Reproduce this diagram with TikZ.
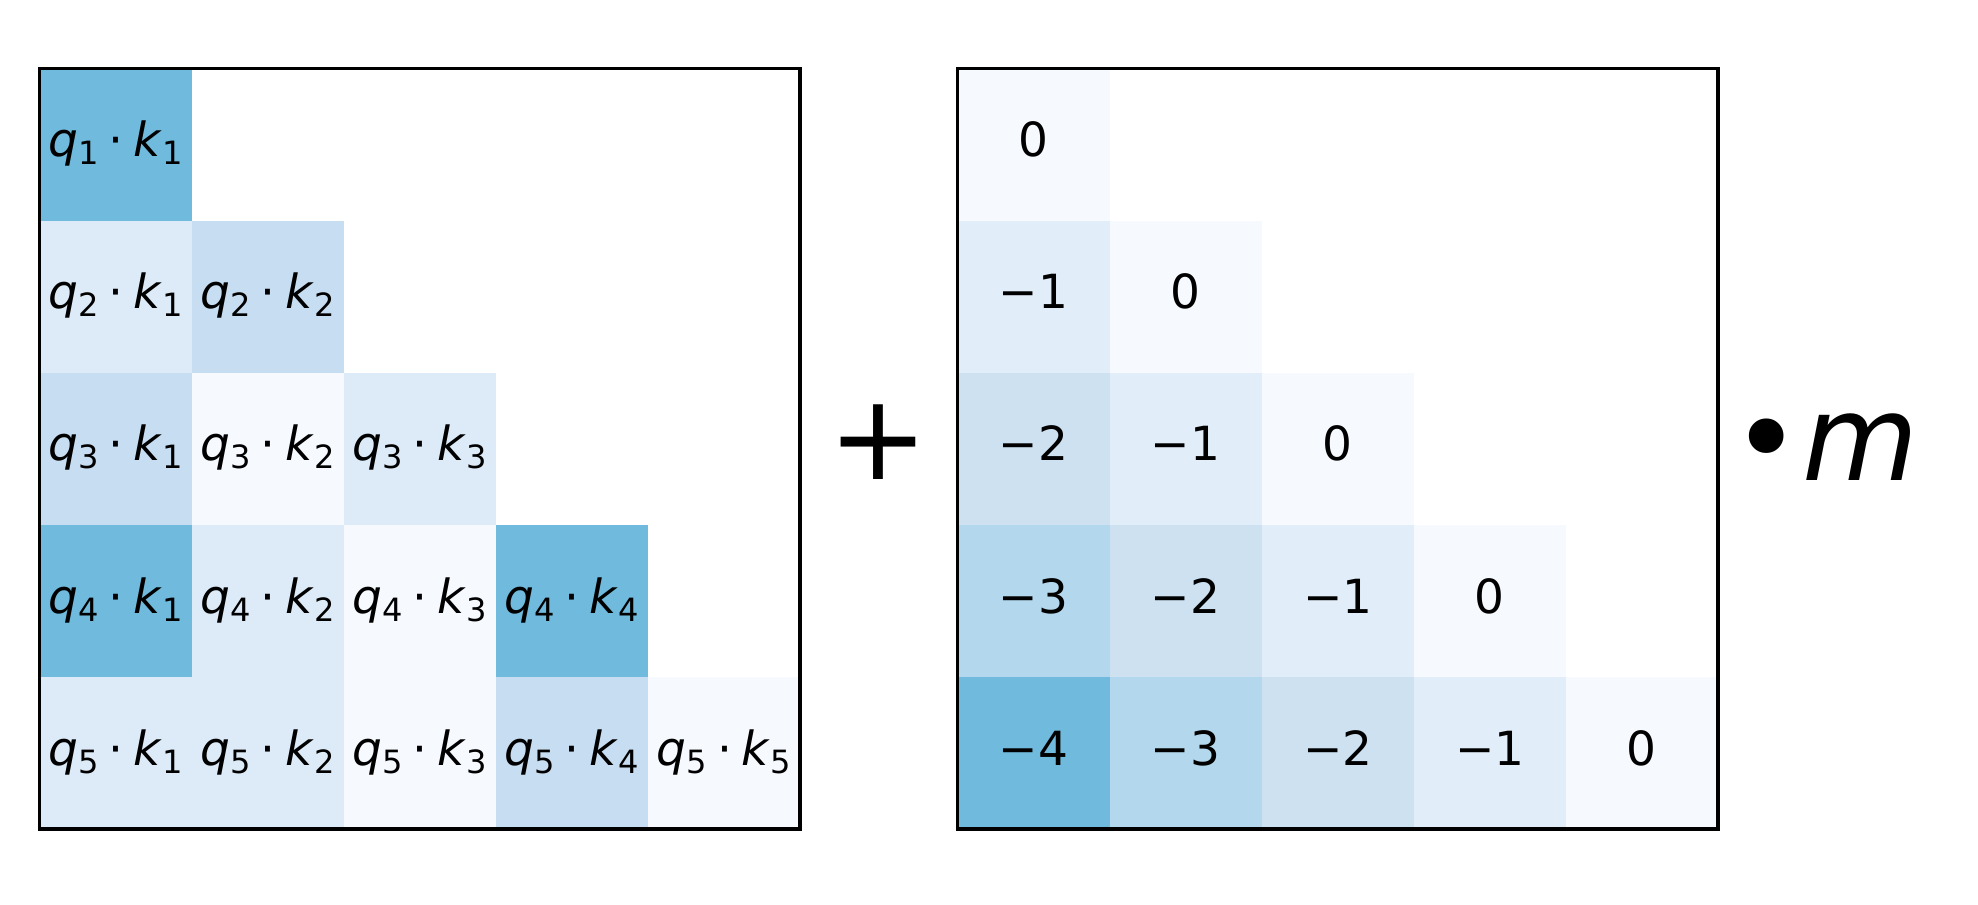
\documentclass[tikz,border=0pt]{standalone}
\usepackage{fontspec}
\setmainfont{DejaVu Sans}[ItalicFont={DejaVu Sans Oblique}]
\usepackage{graphicx}

\definecolor{bluedark}{RGB}{111,186,221}
\definecolor{bluemid}{RGB}{199,221,241}
\definecolor{bluelight}{RGB}{221,235,248}
\definecolor{bluepale}{RGB}{246,250,255}
\definecolor{biasone}{RGB}{225,237,248}
\definecolor{biastwo}{RGB}{205,225,241}
\definecolor{biasthree}{RGB}{179,215,236}

\newcommand{\qdotk}[2]{\textit{q}\raisebox{-0.17em}{\fontsize{6}{6}\selectfont #1}\hspace{0.21em}⋅\hspace{0.21em}\textit{k}\raisebox{-0.17em}{\fontsize{6}{6}\selectfont #2}}

\begin{document}
\begin{tikzpicture}[
  cell/.style={minimum size=1cm, inner sep=0pt, text height=6.7pt, text depth=2.1pt, font=\fontsize{8.8}{10}\selectfont},
  frame/.style={line width=0.6pt},
  big/.style={inner sep=0pt, font=\fontsize{22.3}{24}\selectfont}]
\useasboundingbox (-0.26,-0.496) rectangle (12.745,5.45);
\node[cell, fill=bluedark]  (qk11) at (0.5,4.5) {\qdotk{1}{1}};
\node[cell, fill=bluelight] (qk21) at (0.5,3.5) {\qdotk{2}{1}};
\node[cell, fill=bluemid]   (qk22) at (1.5,3.5) {\qdotk{2}{2}};
\node[cell, fill=bluemid]   (qk31) at (0.5,2.5) {\qdotk{3}{1}};
\node[cell, fill=bluepale]  (qk32) at (1.5,2.5) {\qdotk{3}{2}};
\node[cell, fill=bluelight] (qk33) at (2.5,2.5) {\qdotk{3}{3}};
\node[cell, fill=bluedark]  (qk41) at (0.5,1.5) {\qdotk{4}{1}};
\node[cell, fill=bluelight] (qk42) at (1.5,1.5) {\qdotk{4}{2}};
\node[cell, fill=bluepale]  (qk43) at (2.5,1.5) {\qdotk{4}{3}};
\node[cell, fill=bluedark]  (qk44) at (3.5,1.5) {\qdotk{4}{4}};
\node[cell, fill=bluelight] (qk51) at (0.5,0.5) {\qdotk{5}{1}};
\node[cell, fill=bluelight] (qk52) at (1.5,0.5) {\qdotk{5}{2}};
\node[cell, fill=bluepale]  (qk53) at (2.5,0.5) {\qdotk{5}{3}};
\node[cell, fill=bluemid]   (qk54) at (3.5,0.5) {\qdotk{5}{4}};
\node[cell, fill=bluepale]  (qk55) at (4.5,0.5) {\qdotk{5}{5}};
\draw[frame] (0,0) rectangle (5,5);

\node[big] (plus) at (5.513,2.541) {+};

\node[cell, fill=bluepale]  (bias11) at (6.535,4.5) {0};
\node[cell, fill=biasone]   (bias21) at (6.535,3.5) {−1};
\node[cell, fill=bluepale]  (bias22) at (7.535,3.5) {0};
\node[cell, fill=biastwo]   (bias31) at (6.535,2.5) {−2};
\node[cell, fill=biasone]   (bias32) at (7.535,2.5) {−1};
\node[cell, fill=bluepale]  (bias33) at (8.535,2.5) {0};
\node[cell, fill=biasthree] (bias41) at (6.535,1.5) {−3};
\node[cell, fill=biastwo]   (bias42) at (7.535,1.5) {−2};
\node[cell, fill=biasone]   (bias43) at (8.535,1.5) {−1};
\node[cell, fill=bluepale]  (bias44) at (9.535,1.5) {0};
\node[cell, fill=bluedark]  (bias51) at (6.535,0.5) {−4};
\node[cell, fill=biasthree] (bias52) at (7.535,0.5) {−3};
\node[cell, fill=biastwo]   (bias53) at (8.535,0.5) {−2};
\node[cell, fill=biasone]   (bias54) at (9.535,0.5) {−1};
\node[cell, fill=bluepale]  (bias55) at (10.535,0.5) {0};
\draw[frame] (6.035,0) rectangle (11.035,5);

\node[big, anchor=base west] (scale) at (11.12,2.291) {•\textit{m}};
\end{tikzpicture}
\end{document}
